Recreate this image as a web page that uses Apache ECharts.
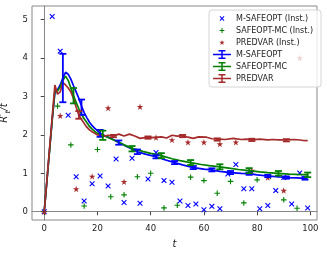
<!DOCTYPE html>
<html><head><meta charset="utf-8">
<script src="https://cdn.jsdelivr.net/npm/echarts@6/dist/echarts.min.js"></script>
<style>html,body{margin:0;padding:0;background:#fff}#c{width:327px;height:255px}</style>
</head><body><div id="c"></div>
<script>
// ---- data ----
const msafeT = [0,3,6,9,12,15,18,21,24,27,30,33,36,39,42,45,48,51,54,57,60,63,66,69,72,75,78,81,84,87,90,93,96,99];
const msafeV = [0,5.08,4.18,2.51,0.91,0.28,0.73,0.93,0.67,1.37,0.24,1.39,0.22,0.85,1.54,0.81,0.77,0.28,0.16,0.2,0.05,0.14,0.08,0.98,1.23,0.6,0.6,0.08,0.16,0.55,0.89,0.2,1.01,0.1];
const smcT = [0,5,10,15,20,25,30,35,40,45,50,55,60,65,70,75,80,85,90,95];
const smcV = [0,2.75,1.74,0.15,1.62,0.39,0.44,0.91,1.0,0.1,0.17,0.9,0.81,0.48,0.79,0.23,0.83,0.92,0.31,0.09];
const pvT = [0,6,12,18,24,30,36,42,48,54,60,66,72,78,84,90,96];
const pvV = [0,2.5,0.59,0.92,2.7,0.78,2.73,1.93,1.87,1.81,1.81,1.76,1.81,1.07,0.89,0.55,4.0];

const blueT = [0,1,2,3,4,5,6,7,8,9,10,11,12,13,14,15,16,17,18,19,20,21,23,25,28,31,35,38,42,45,49,52,56,60,63,66,70,74,77,80,84,88,91,95,98,99];
const blueM = [0,0.8,1.6,2.4,3.1,3.18,3.3,3.48,3.63,3.58,3.45,3.28,3.12,2.95,2.75,2.58,2.45,2.33,2.24,2.17,2.11,2.04,1.97,1.91,1.8,1.7,1.56,1.5,1.43,1.36,1.28,1.22,1.15,1.11,1.09,1.05,1.02,1.0,0.99,0.96,0.93,0.91,0.89,0.88,0.87,0.87];
const greenT = [0,1,2,3,4,5,6,7,8,9,10,11,12,13,14,15,16,17,18,19,20,22,24,27,30,33,37,40,44,48,51,55,59,62,66,70,73,77,81,84,88,92,95,99];
const greenM = [0,0.8,1.6,2.4,3.15,3.14,3.25,3.42,3.53,3.42,3.22,3.02,2.85,2.68,2.54,2.42,2.32,2.22,2.15,2.09,2.04,1.99,1.93,1.84,1.74,1.65,1.57,1.52,1.46,1.38,1.33,1.28,1.23,1.2,1.17,1.13,1.1,1.07,1.04,1.02,1.0,0.98,0.97,0.96];
const brownT = [0,1,2,3,4,5,6,7,8,9,10,11,12,13,14,15,16,17,18,19,20,21,22,24,26,28,30,32,34,36,39,41,44,46,48,50,52,54,56,58,61,63,66,68,71,74,76,78,81,84,86,88,91,94,97,99];
const brownM = [0,0.82,1.65,2.47,3.3,3.06,3.12,3.36,3.3,3.22,3.12,2.95,2.72,2.52,2.4,2.3,2.2,2.13,2.08,2.04,2.0,1.99,1.96,1.99,1.97,2.02,1.97,2.02,1.97,1.91,1.94,1.93,1.95,1.92,1.99,1.97,1.98,1.94,1.91,1.95,1.94,1.9,1.89,1.88,1.91,1.88,1.89,1.87,1.89,1.87,1.88,1.87,1.87,1.88,1.86,1.85];

const blueErrT = [7,14,21,28,35,42,49,56,63,70,77,84,91,98];
const blueErrM = [3.48,2.72,2.04,1.8,1.56,1.43,1.28,1.15,1.09,1.02,0.99,0.93,0.89,0.87];
const blueErrE = [0.63,0.2,0.09,0.055,0.06,0.04,0.04,0.04,0.04,0.04,0.03,0.03,0.03,0.035];
const greenErrT = [11,22,33,44,55,66,77,88,99];
const greenErrM = [3.02,1.99,1.64,1.46,1.28,1.17,1.07,1.0,0.96];
const greenErrE = [0.2,0.12,0.07,0.065,0.065,0.065,0.065,0.06,0.06];
const brownErrT = [13,26,39,52,65,78,91];
const brownErrM = [2.52,1.97,1.93,1.97,1.88,1.87,1.86];
const brownErrE = [0.1,0.03,0.03,0.03,0.03,0.03,0.03];

const xTicks = [0,20,40,60,80,100];
const yTicks = [0,1,2,3,4,5];

// ---- styles ----
const BLUE = '#0000ff', GREEN = '#008000', BROWN = '#a52a2a';
const zip = (a, b) => a.map((v, i) => [v, b[i]]);
const zip3 = (a, b, c) => a.map((v, i) => [v, b[i], c[i]]);

const xSym = 'path://M0,1.4 L1.4,0 L5,3.6 L8.6,0 L10,1.4 L6.4,5 L10,8.6 L8.6,10 L5,6.4 L1.4,10 L0,8.6 L3.6,5 Z';
const plusSym = 'path://M4,0 H6 V4 H10 V6 H6 V10 H4 V6 H0 V4 H4 Z';
const starSym = 'path://M50,0 L61.23,34.55 L97.55,34.55 L68.17,55.9 L79.39,90.45 L50,69.1 L20.61,90.45 L31.83,55.9 L2.45,34.55 L38.77,34.55 Z';

const corners = ' M0,0 L0.01,0 L0,0.01 Z M18,9 L17.99,9 L18,8.99 Z';
const xIcon = 'path://M6.6,2.8 L7.3,2.1 L9,3.8 L10.7,2.1 L11.4,2.8 L9.7,4.5 L11.4,6.2 L10.7,6.9 L9,5.2 L7.3,6.9 L6.6,6.2 L8.3,4.5 Z' + corners;
const plusIcon = 'path://M8.5,2.1 H9.5 V4 H11.4 V5 H9.5 V6.9 H8.5 V5 H6.6 V4 H8.5 Z' + corners;
const starIcon = 'path://M9,1.9 L9.63,3.84 L11.67,3.84 L10.02,5.04 L10.65,6.98 L9,5.78 L7.35,6.98 L7.98,5.04 L6.33,3.84 L8.37,3.84 Z' + corners;
const ebIcon = 'path://M0,3.8 H18 V5.2 H0 Z M8.25,0 H9.75 V9 H8.25 Z M5.5,0 H12.5 V1.5 H5.5 Z M5.5,7.5 H12.5 V9 H5.5 Z';

function errSeries(name, color, data) {
  return {
    name, type: 'custom', z: 5, data,
    encode: { x: 0, y: 1 },
    renderItem: (params, api) => {
      const x = api.value(0), m = api.value(1), e = api.value(2);
      const top = api.coord([x, m + e]), bot = api.coord([x, m - e]);
      const cw = 3.5;
      const style = { stroke: color, lineWidth: 1.8, fill: null };
      return { type: 'group', children: [
        { type: 'line', shape: { x1: top[0], y1: top[1], x2: bot[0], y2: bot[1] }, style },
        { type: 'line', shape: { x1: top[0] - cw, y1: top[1], x2: top[0] + cw, y2: top[1] }, style },
        { type: 'line', shape: { x1: bot[0] - cw, y1: bot[1], x2: bot[0] + cw, y2: bot[1] }, style }
      ]};
    }
  };
}
function lineSeries(name, color, data) {
  return { name, type: 'line', z: 4, data, showSymbol: false, symbol: 'none',
    lineStyle: { color, width: 1.7 }, itemStyle: { color } };
}
function scatterSeries(name, color, sym, size, data) {
  return { name, type: 'scatter', z: 2, data, symbol: sym, symbolSize: size,
    itemStyle: { color, opacity: 1 } };
}

const axisCol = '#888';
const chart = echarts.init(document.getElementById('c'), null, { renderer: 'canvas' });
chart.setOption({
  animation: false,
  backgroundColor: '#fff',
  textStyle: { fontFamily: 'DejaVu Sans' },
  grid: { left: 32, right: 10, top: 6, bottom: 35, containLabel: false, outerBoundsMode: 'none',
    show: true, borderColor: axisCol, borderWidth: 1, backgroundColor: 'transparent' },
  xAxis: {
    type: 'value', min: -4.6, max: 102.5,
    name: 't', nameLocation: 'middle', nameGap: 19,
    nameTextStyle: { fontSize: 10, fontStyle: 'italic', color: '#222', fontFamily: 'DejaVu Sans' },
    axisLine: { show: true, lineStyle: { color: axisCol, width: 1 } },
    axisTick: { show: true, length: 3.5, customValues: xTicks, lineStyle: { color: '#444' } },
    axisLabel: { customValues: xTicks, fontSize: 8.5, color: '#222', margin: 4, fontFamily: 'DejaVu Sans' },
    splitLine: { show: false }
  },
  yAxis: {
    type: 'value', min: -0.215, max: 5.355,
    name: '{a|R′}{s|t}{a|/t}', nameLocation: 'middle', nameGap: 18, nameRotate: 90,
    nameTextStyle: { color: '#222', rich: {
      a: { fontSize: 10, fontStyle: 'italic', fontFamily: 'DejaVu Sans', color: '#222', lineHeight: 14, verticalAlign: 'middle' },
      s: { fontSize: 7, fontStyle: 'italic', fontFamily: 'DejaVu Sans', color: '#222', lineHeight: 14, verticalAlign: 'bottom', padding: [4, 0, 0, 0] }
    } },
    axisLine: { show: true, lineStyle: { color: axisCol, width: 1 } },
    axisTick: { show: true, length: 3.5, customValues: yTicks, lineStyle: { color: '#444' } },
    axisLabel: { customValues: yTicks, fontSize: 8.5, color: '#222', margin: 4, fontFamily: 'DejaVu Sans' },
    splitLine: { show: false }
  },
  legend: {
    orient: 'vertical', left: 209, top: 10,
    itemWidth: 18, itemHeight: 9, itemGap: 3,
    padding: [4, 8, 4, 4],
    backgroundColor: 'rgba(255,255,255,0.8)', borderColor: '#d4d4d4', borderWidth: 1, borderRadius: 3,
    textStyle: { fontSize: 8, color: '#222', fontFamily: 'DejaVu Sans' },
    data: [
      { name: 'M-SAFEOPT (Inst.)', icon: xIcon },
      { name: 'SAFEOPT-MC (Inst.)', icon: plusIcon },
      { name: 'PREDVAR (Inst.)', icon: starIcon },
      { name: 'M-SAFEOPT', icon: ebIcon },
      { name: 'SAFEOPT-MC', icon: ebIcon },
      { name: 'PREDVAR', icon: ebIcon }
    ]
  },
  series: [
    scatterSeries('M-SAFEOPT (Inst.)', BLUE, xSym, 5.5, zip(msafeT, msafeV)),
    scatterSeries('SAFEOPT-MC (Inst.)', GREEN, plusSym, 5.5, zip(smcT, smcV)),
    scatterSeries('PREDVAR (Inst.)', BROWN, starSym, 6.5, zip(pvT, pvV)),
    lineSeries('M-SAFEOPT', BLUE, zip(blueT, blueM)),
    errSeries('M-SAFEOPT', BLUE, zip3(blueErrT, blueErrM, blueErrE)),
    lineSeries('SAFEOPT-MC', GREEN, zip(greenT, greenM)),
    errSeries('SAFEOPT-MC', GREEN, zip3(greenErrT, greenErrM, greenErrE)),
    lineSeries('PREDVAR', BROWN, zip(brownT, brownM)),
    errSeries('PREDVAR', BROWN, zip3(brownErrT, brownErrM, brownErrE))
  ]
});
</script></body></html>
